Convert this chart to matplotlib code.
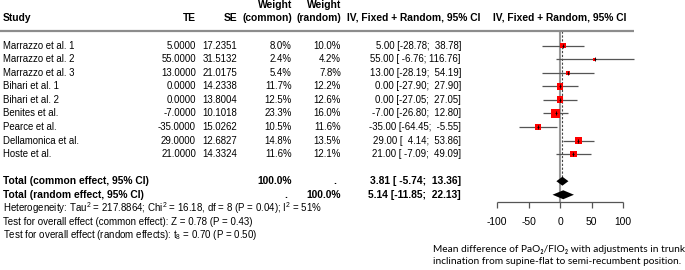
"""
Forest plot: PaO2/FiO2 change from supine-flat to semi-recumbent
"""

import matplotlib
matplotlib.use('Agg')
import matplotlib.pyplot as plt
from matplotlib import transforms
import numpy as np

plt.rcParams['font.family'] = ['Liberation Sans', 'DejaVu Sans']
plt.rcParams['mathtext.fontset'] = 'custom'
plt.rcParams['mathtext.rm'] = 'Liberation Sans'
plt.rcParams['mathtext.default'] = 'regular'

# Study data
studies = ['Marrazzo et al. 1', 'Marrazzo et al. 2', 'Marrazzo et al. 3',
           'Bihari et al. 1', 'Bihari et al. 2', 'Benites et al.',
           'Pearce et al.', 'Dellamonica et al.', 'Hoste et al.']
te = [5.0, 55.0, 13.0, 0.0, 0.0, -7.0, -35.0, 29.0, 21.0]
se = [17.2351, 31.5132, 21.0175, 14.2338, 13.8004, 10.1018, 15.0262, 12.6827, 14.3324]
ci_lo = [-28.78, -6.76, -28.19, -27.90, -27.05, -26.80, -64.45, 4.14, -7.09]
ci_hi = [38.78, 116.76, 54.19, 27.90, 27.05, 12.80, -5.55, 53.86, 49.09]
w_common = [8.0, 2.4, 5.4, 11.7, 12.5, 23.3, 10.5, 14.8, 11.6]
w_random = [10.0, 4.2, 7.8, 12.2, 12.6, 16.0, 11.6, 13.5, 12.1]

# Pooled estimates
common = (3.81, -5.74, 13.36)
random_ = (5.14, -11.85, 22.13)

ticks = [-100, -50, 0, 50, 100]

het_text = ('Heterogeneity: Tau$^2$ = 217.8864; Chi$^2$ = 16.18, df = 8 (P = 0.04); '
            'I$^2$ = 51%')
test_common = 'Test for overall effect (common effect): Z = 0.78 (P = 0.43)'
test_random = 'Test for overall effect (random effects): t$_8$ = 0.70 (P = 0.50)'
caption = ['Mean difference of PaO\u2082/FIO\u2082 with adjustments in trunk',
           'inclination from supine-flat to semi-recumbent position.']


W, H = 685, 270
fig = plt.figure(figsize=(W / 100, H / 100), dpi=100)
ax = fig.add_axes([0, 0, 1, 1])
ax.axis('off')

# x: effect scale, 0 at px 560, 0.63 px per unit
x0_px, scale = 560, 0.63
ax.set_xlim((0 - x0_px) / scale, (W - x0_px) / scale)
# y: row units, row 1 at px 45.7, 13.55 px per row
r0_px, row_px = 45.7, 13.55
ax.set_ylim(1 + (H - r0_px) / row_px, 1 - r0_px / row_px)

tr = transforms.blended_transform_factory(ax.transAxes, ax.transData)


def col(px):
    return px / W


fs = 6.9
fs_b = 7.4
rows = np.arange(1, len(studies) + 1)
r_common, r_random = len(studies) + 2, len(studies) + 3

# headers
hdr = dict(transform=tr, fontsize=fs_b, weight='bold', va='center')
ax.text(col(3), -1.05, 'Study', **hdr)
ax.text(col(196), -1.05, 'TE', ha='right', **hdr)
ax.text(col(237), -1.05, 'SE', ha='right', **hdr)
ax.text(col(292), -2.0, 'Weight', ha='right', **hdr)
ax.text(col(292), -1.05, '(common)', ha='right', **hdr)
ax.text(col(341), -2.0, 'Weight', ha='right', **hdr)
ax.text(col(341), -1.05, '(random)', ha='right', **hdr)
ax.text(col(414), -1.05, 'IV, Fixed + Random, 95% CI', ha='center', **hdr)
ax.text(0, -1.05, 'IV, Fixed + Random, 95% CI', fontsize=fs_b, weight='bold',
        va='center', ha='center')

# header rule
x_left = ax.get_xlim()[0]
ax.hlines(-0.05, x_left, max(ci_hi), color='#8c8c8c', lw=1.6)

# study rows
for r, name, t, s, lo, hi, wc, wr in zip(rows, studies, te, se, ci_lo, ci_hi, w_common, w_random):
    ax.text(col(3), r, name, transform=tr, fontsize=fs, va='center')
    ax.text(col(196), r, f'{t:.4f}', transform=tr, fontsize=fs, va='center', ha='right')
    ax.text(col(237), r, f'{s:.4f}', transform=tr, fontsize=fs, va='center', ha='right')
    ax.text(col(292), r, f'{wc:.1f}%', transform=tr, fontsize=fs, va='center', ha='right')
    ax.text(col(341), r, f'{wr:.1f}%', transform=tr, fontsize=fs, va='center', ha='right')
    ax.text(col(461), r, f'{t:.2f} [{lo:6.2f}; {hi:6.2f}]', transform=tr, fontsize=fs,
            va='center', ha='right')

# totals
for r, label, est, wc, wr in [(r_common, 'Total (common effect, 95% CI)', common, '100.0%', '.'),
                              (r_random, 'Total (random effect, 95% CI)', random_, '.', '100.0%')]:
    ax.text(col(3), r, label, **hdr)
    ax.text(col(292 if wc != '.' else 287), r, wc, ha='right', **hdr)
    ax.text(col(341 if wr != '.' else 336), r, wr, ha='right', **hdr)
    ax.text(col(461), r, f'{est[0]:.2f} [{est[1]:6.2f}; {est[2]:6.2f}]', ha='right', **hdr)

# heterogeneity and tests
fs_small = 7.0
for r, txt in [(r_random + 1, het_text), (r_random + 2, test_common), (r_random + 3, test_random)]:
    ax.text(col(3), r, txt, transform=tr, fontsize=fs_small, va='center')

# reference lines
axis_row = 12.54
ax.vlines(0, -0.05, axis_row, color='#9a9a9a', lw=1.5, zorder=1)
ax.vlines(common[0], -0.05, 10.7, color='#444444', lw=0.8, ls=(0, (2, 1.5)), zorder=1)

# CIs and squares
ax.hlines(rows, ci_lo, ci_hi, color='#555555', lw=0.9, zorder=2)
sizes = 1.92 * np.array(w_common)
ax.scatter(te, rows, s=sizes, marker='s', color='#ff0000', edgecolors='none', zorder=3)
ax.scatter(te, rows, s=8, marker='|', color='black', linewidths=0.6, zorder=4)
ax.hlines(rows, np.array(te) - 1.5, np.array(te) + 1.5, color='black', lw=0.6, zorder=4)

# diamonds
h = 0.33
for r, (est, lo, hi) in [(r_common, common), (r_random, random_)]:
    ax.fill([lo, est, hi, est], [r, r - h, r, r + h], color='black', lw=0, zorder=3)

# x axis
ax.hlines(axis_row, ticks[0], ticks[-1], color='#555555', lw=0.9)
ax.vlines(ticks, axis_row, axis_row + 0.45, color='#555555', lw=0.9)
for t in ticks:
    ax.text(t, 14.0, str(t), fontsize=7.4, ha='center', va='center')

# caption
for i, line in enumerate(caption):
    fig.text(433 / W, 1 - (250 + 11.5 * i) / H, line, fontsize=7.25,
             family=['Lato', 'DejaVu Sans'], va='center', ha='left')

fig.savefig('out.png', dpi=100)
